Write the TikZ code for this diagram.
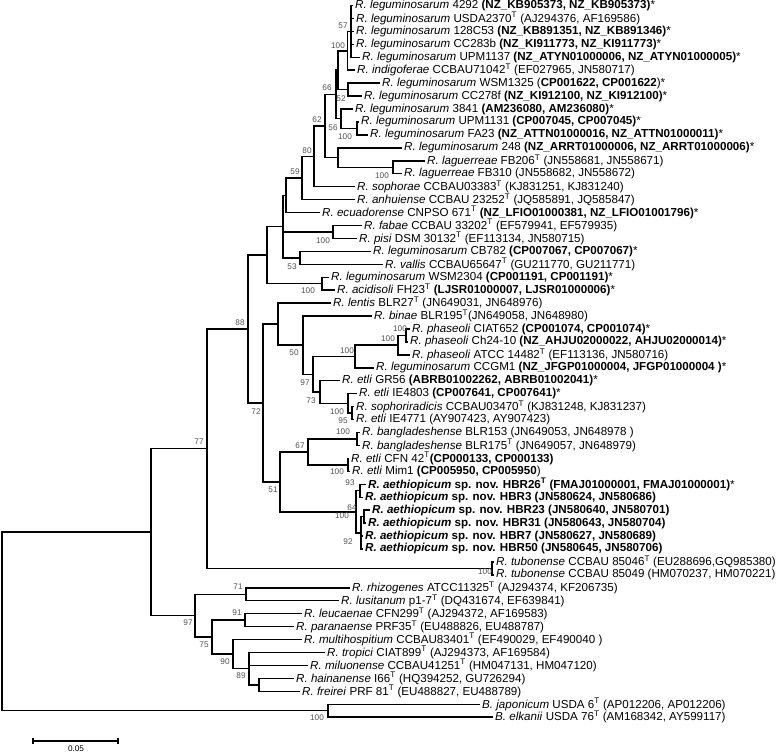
\documentclass[tikz,border=0pt]{standalone}
\usepackage{fontspec}
\setmainfont{Liberation Sans}
\begin{document}
\begin{tikzpicture}[x=1pt,y=-1pt,
  br/.style={line width=1.45pt},
  lf/.style={anchor=west, inner sep=2pt, font=\fontsize{11.6}{13}\selectfont},
  bs/.style={inner sep=0pt, font=\fontsize{8.2}{9}\selectfont, text=black!68}]
\useasboundingbox (0,0) rectangle (778,753);
\newcommand{\Tt}{\textsuperscript{T}}
% ---------- leaves ----------
\node[lf] (l1) at (353,5.50) {\textit{R. leguminosarum} 4292 \textbf{(NZ\_KB905373, NZ\_KB905373)}*};
\node[lf] (l2) at (354,18.44) {\textit{R. leguminosarum} USDA2370\Tt{} (AJ294376, AF169586)};
\node[lf] (l3) at (354,31.38) {\textit{R. leguminosarum} 128C53 \textbf{(NZ\_KB891351, NZ\_KB891346)}*};
\node[lf] (l4) at (354,44.32) {\textit{R. leguminosarum} CC283b \textbf{(NZ\_KI911773, NZ\_KI911773)}*};
\node[lf] (l5) at (360,57.26) {\textit{R. leguminosarum} UPM1137 \textbf{(NZ\_ATYN01000006, NZ\_ATYN01000005)}*};
\node[lf] (l6) at (355,70.20) {\textit{R. indigoferae} CCBAU71042\Tt{} (EF027965, JN580717)};
\node[lf] (l7) at (380,83.14) {\textit{R. leguminosarum} WSM1325 (\textbf{CP001622, CP001622})*};
\node[lf] (l8) at (362,96.08) {\textit{R. leguminosarum} CC278f \textbf{(NZ\_KI912100, NZ\_KI912100)}*};
\node[lf] (l9) at (353,109.02) {\textit{R. leguminosarum} 3841 \textbf{(AM236080, AM236080)}*};
\node[lf] (l10) at (359,121.96) {\textit{R. leguminosarum} UPM1131 \textbf{(CP007045, CP007045)}*};
\node[lf] (l11) at (368,134.90) {\textit{R. leguminosarum} FA23 \textbf{(NZ\_ATTN01000016, NZ\_ATTN01000011)}*};
\node[lf] (l12) at (402,147.84) {\textit{R. leguminosarum} 248 \textbf{(NZ\_ARRT01000006, NZ\_ARRT01000006)}*};
\node[lf] (l13) at (425,160.78) {\textit{R. laguerreae} FB206\Tt{} (JN558681, JN558671)};
\node[lf] (l14) at (402,173.72) {\textit{R. laguerreae} FB310 (JN558682, JN558672)};
\node[lf] (l15) at (355,186.66) {\textit{R. sophorae} CCBAU03383\Tt{} (KJ831251, KJ831240)};
\node[lf] (l16) at (355,199.60) {\textit{R. anhuiense} CCBAU 23252\Tt{} (JQ585891, JQ585847)};
\node[lf] (l17) at (320,212.54) {\textit{R. ecuadorense} CNPSO 671\Tt{} \textbf{(NZ\_LFIO01000381, NZ\_LFIO01001796)}*};
\node[lf] (l18) at (362,225.48) {\textit{R. fabae} CCBAU 33202\Tt{} (EF579941, EF579935)};
\node[lf] (l19) at (357,238.42) {\textit{R. pisi} DSM 30132\Tt{} (EF113134, JN580715)};
\node[lf] (l20) at (371,251.36) {\textit{R. leguminosarum} CB782 \textbf{(CP007067, CP007067)}*};
\node[lf] (l21) at (383,264.30) {\textit{R. vallis} CCBAU65647\Tt{} (GU211770, GU211771)};
\node[lf] (l22) at (329,277.24) {\textit{R. leguminosarum} WSM2304 \textbf{(CP001191, CP001191)}*};
\node[lf] (l23) at (335,290.18) {\textit{R. acidisoli} FH23\Tt{} \textbf{(LJSR01000007, LJSR01000006)}*};
\node[lf] (l24) at (331,303.12) {\textit{R. lentis} BLR27\Tt{} (JN649031, JN648976)};
\node[lf] (l25) at (372,316.06) {\textit{R. binae} BLR195\Tt(JN649058, JN648980)};
\node[lf] (l26) at (410,329.00) {\textit{R. phaseoli} CIAT652 \textbf{(CP001074, CP001074)}*};
\node[lf] (l27) at (408,341.94) {\textit{R. phaseoli} Ch24-10 \textbf{(NZ\_AHJU02000022, AHJU02000014)}*};
\node[lf] (l28) at (410,354.88) {\textit{R. phaseoli} ATCC 14482\Tt{} (EF113136, JN580716)};
\node[lf] (l29) at (374,367.82) {\textit{R. leguminosarum} CCGM1 \textbf{(NZ\_JFGP01000004, JFGP01000004 )}*};
\node[lf] (l30) at (340,380.76) {\textit{R. etli} GR56 \textbf{(ABRB01002262, ABRB01002041)}*};
\node[lf] (l31) at (357,393.70) {\textit{R. etli} IE4803 \textbf{(CP007641, CP007641)}*};
\node[lf] (l32) at (354,406.64) {\textit{R. sophoriradicis} CCBAU03470\Tt{} (KJ831248, KJ831237)};
\node[lf] (l33) at (354,419.58) {\textit{R. etli} IE4771 (AY907423, AY907423)};
\node[lf] (l34) at (360,432.52) {\textit{R. bangladeshense} BLR153 (JN649053, JN648978 )};
\node[lf] (l35) at (360,445.46) {\textit{R. bangladeshense} BLR175\Tt{} (JN649057, JN648979)};
\node[lf] (l36) at (349,458.40) {\textit{R. etli} CFN 42\Tt{}\textbf{(CP000133, CP000133)}};
\node[lf] (l37) at (350,471.34) {\textit{R. etli} Mim1 \textbf{(CP005950, CP005950})};
\node[lf] (l38) at (366,484.28) {\textbf{\textit{R. aethiopicum} sp. nov. HBR26\Tt{} (FMAJ01000001, FMAJ01000001)}*};
\node[lf] (l39) at (363,497.22) {\textbf{\textit{R. aethiopicum} sp. nov. HBR3 (JN580624, JN580686)}};
\node[lf] (l40) at (370,510.16) {\textbf{\textit{R. aethiopicum} sp. nov. HBR23 (JN580640, JN580701)}};
\node[lf] (l41) at (366,523.10) {\textbf{\textit{R. aethiopicum} sp. nov. HBR31 (JN580643, JN580704)}};
\node[lf] (l42) at (363,536.04) {\textbf{\textit{R. aethiopicum} sp. nov. HBR7 (JN580627, JN580689)}};
\node[lf] (l43) at (363,548.98) {\textbf{\textit{R. aethiopicum} sp. nov. HBR50 (JN580645, JN580706)}};
\node[lf] (l44) at (494,561.92) {\textit{R. tubonense} CCBAU 85046\Tt{} (EU288696,GQ985380)};
\node[lf] (l45) at (494,574.86) {\textit{R. tubonense} CCBAU 85049 (HM070237, HM070221)};
\node[lf] (l46) at (350,587.80) {\textit{R. rhizogenes} ATCC11325\Tt{} (AJ294374, KF206735)};
\node[lf] (l47) at (339,600.74) {\textit{R. lusitanum} p1-7\Tt{} (DQ431674, EF639841)};
\node[lf] (l48) at (302,613.68) {\textit{R. leucaenae} CFN299\Tt{} (AJ294372, AF169583)};
\node[lf] (l49) at (294,626.62) {\textit{R. paranaense} PRF35\Tt{} (EU488826, EU488787)};
\node[lf] (l50) at (302,639.56) {\textit{R. multihospitium} CCBAU83401\Tt{} (EF490029, EF490040 )};
\node[lf] (l51) at (325,652.50) {\textit{R. tropici} CIAT899\Tt{} (AJ294373, AF169584)};
\node[lf] (l52) at (308,665.44) {\textit{R. miluonense} CCBAU41251\Tt{} (HM047131, HM047120)};
\node[lf] (l53) at (294,678.38) {\textit{R. hainanense} I66\Tt{} (HQ394252, GU726294)};
\node[lf] (l54) at (300,691.32) {\textit{R. freirei} PRF 81\Tt{} (EU488827, EU488789)};
\node[lf] (l55) at (480,704.26) {\textit{B. japonicum} USDA 6\Tt{} (AP012206, AP012206)};
\node[lf] (l56) at (493,717.20) {\textit{B. elkanii} USDA 76\Tt{} (AM168342, AY599117)};
% ---------- internal nodes ----------
\coordinate (n57) at (351,31.38);
\coordinate (n100a) at (347.5,50.79);
\coordinate (n52) at (348,89.61);
\coordinate (nA) at (338,70.20);
\coordinate (n100b) at (357,128.43);
\coordinate (n56) at (341,118.73);
\coordinate (n66) at (336,94.46);
\coordinate (n100c) at (393,167.25);
\coordinate (nB) at (338,157.55);
\coordinate (n62) at (325,126.00);
\coordinate (n80) at (314,156.33);
\coordinate (n59) at (302,177.97);
\coordinate (nX) at (286,195.26);
\coordinate (n100d) at (333,231.95);
\coordinate (n53) at (300,257.83);
\coordinate (nY) at (283,226.55);
\coordinate (n100e) at (322,283.71);
\coordinate (nZ) at (267,255.13);
\coordinate (n100f) at (406,335.47);
\coordinate (n100g) at (398,345.18);
\coordinate (n100h) at (355,356.50);
\coordinate (n95) at (352,413.11);
\coordinate (n100i) at (348,403.40);
\coordinate (n73) at (320,392.08);
\coordinate (n97a) at (313,374.29);
\coordinate (n50) at (303,345.18);
\coordinate (nW) at (278,324.15);
\coordinate (n100j) at (357,438.99);
\coordinate (n100k) at (348,464.87);
\coordinate (n67) at (308,451.93);
\coordinate (n93) at (360,490.75);
\coordinate (n64) at (364,516.63);
\coordinate (n92) at (361,532.80);
\coordinate (n100l) at (356,511.78);
\coordinate (n51) at (280,481.85);
\coordinate (n72) at (263,403.00);
\coordinate (n88) at (248,329.07);
\coordinate (n100m) at (492,568.39);
\coordinate (n77) at (207,448.73);
\coordinate (n71) at (246,594.27);
\coordinate (n91) at (245,620.15);
\coordinate (nHF) at (259,684.85);
\coordinate (n89) at (249,668.68);
\coordinate (n90) at (233,654.12);
\coordinate (n75) at (212,637.14);
\coordinate (n97b) at (195,615.70);
\coordinate (nR1) at (151,532.20);
\coordinate (n100n) at (328,710.73);
\coordinate (root) at (2,621.47);
% ---------- branches ----------
\foreach \p/\c in {n57/l1,n57/l2,n57/l3,n57/l4,n57/l5,n100a/n57,n100a/l6,n52/l7,n52/l8,
  nA/n100a,nA/n52,n100b/l10,n100b/l11,n56/l9,n56/n100b,n66/nA,n66/n56,n100c/l13,n100c/l14,
  nB/l12,nB/n100c,n62/n66,n62/nB,n80/n62,n80/l15,n59/n80,n59/l16,nX/n59,nX/l17,
  n100d/l18,n100d/l19,n53/l20,n53/l21,nY/nX,nY/n100d,nY/n53,n100e/l22,n100e/l23,nZ/nY,nZ/n100e,
  n100f/l26,n100f/l27,n100g/n100f,n100g/l28,n100h/n100g,n100h/l29,n95/l32,n95/l33,
  n100i/l31,n100i/n95,n73/l30,n73/n100i,n97a/n100h,n97a/n73,n50/l25,n50/n97a,nW/l24,nW/n50,
  n100j/l34,n100j/l35,n100k/l36,n100k/l37,n67/n100j,n67/n100k,n93/l38,n93/l39,n64/l40,n64/l41,
  n92/n64,n92/l42,n92/l43,n100l/n93,n100l/n92,n51/n67,n51/n100l,n72/nW,n72/n51,n88/nZ,n88/n72,
  n100m/l44,n100m/l45,n77/n88,n77/n100m,n71/l46,n71/l47,n91/l48,n91/l49,nHF/l53,nHF/l54,
  n89/l51,n89/l52,n89/nHF,n90/l50,n90/n89,n75/n91,n75/n90,n97b/n71,n97b/n75,nR1/n77,nR1/n97b,
  n100n/l55,n100n/l56,root/nR1,root/n100n}
  \draw[br] (\p) |- (\c);
% ---------- bootstrap values ----------
\node[bs] (b1) at (343,26) {57};
\node[bs] (b2) at (338,46) {100};
\node[bs] (b3) at (327,88) {66};
\node[bs] (b4) at (341,99) {52};
\node[bs] (b5) at (317,120) {62};
\node[bs] (b6) at (333,128) {56};
\node[bs] (b7) at (345,137) {100};
\node[bs] (b8) at (307,151) {80};
\node[bs] (b9) at (295,172) {59};
\node[bs] (b10) at (382,176) {100};
\node[bs] (b11) at (323,241) {100};
\node[bs] (b12) at (292,267) {53};
\node[bs] (b13) at (308,291) {100};
\node[bs] (b14) at (240,323) {88};
\node[bs] (b15) at (294,353) {50};
\node[bs] (b16) at (347,351) {100};
\node[bs] (b17) at (388,339) {100};
\node[bs] (b18) at (400,329) {100};
\node[bs] (b19) at (305,383) {97};
\node[bs] (b20) at (311,401) {73};
\node[bs] (b21) at (337,412) {100};
\node[bs] (b22) at (343,421) {95};
\node[bs] (b23) at (256,412) {72};
\node[bs] (b24) at (300,446) {67};
\node[bs] (b25) at (343,432) {100};
\node[bs] (b26) at (337,472) {100};
\node[bs] (b27) at (273,490) {51};
\node[bs] (b28) at (350,483) {93};
\node[bs] (b29) at (352,508) {64};
\node[bs] (b30) at (342,516) {100};
\node[bs] (b31) at (348,542) {92};
\node[bs] (b32) at (199,442) {77};
\node[bs] (b33) at (485,572) {100};
\node[bs] (b34) at (238,587) {71};
\node[bs] (b35) at (237,613) {91};
\node[bs] (b36) at (188,623) {97};
\node[bs] (b37) at (204,645) {75};
\node[bs] (b38) at (225,662) {90};
\node[bs] (b39) at (241,676) {89};
\node[bs] (b40) at (317,718) {100};
% ---------- scale bar ----------
\coordinate (s1) at (33,741);
\coordinate (s2) at (118,741);
\draw[line width=1.1pt] (s1) -- (s2);
\draw[line width=1.1pt] ([yshift=-3pt]s1) -- ([yshift=3pt]s1);
\draw[line width=1.1pt] ([yshift=-3pt]s2) -- ([yshift=3pt]s2);
\node[bs, text=black] (sl) at (76,749) {0.05};
\end{tikzpicture}
\end{document}
